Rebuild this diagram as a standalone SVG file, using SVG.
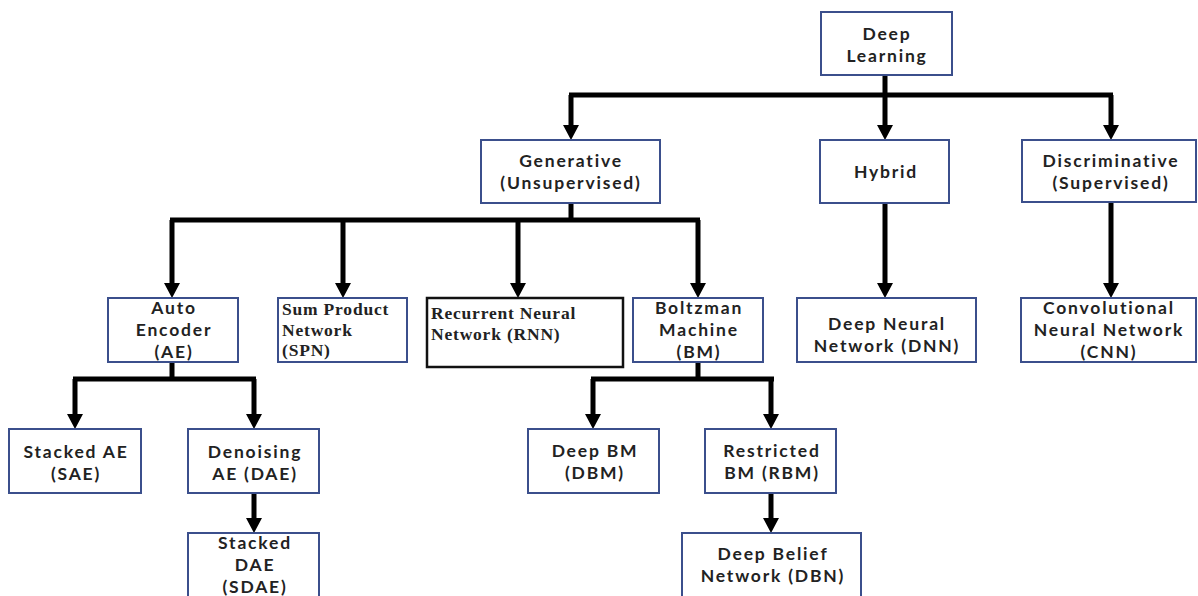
<svg xmlns="http://www.w3.org/2000/svg" xmlns:xlink="http://www.w3.org/1999/xlink" width="1198" height="596" viewBox="0 0 1198 596">
<style>
.box{fill:#fff;stroke:#3b4f8c;stroke-width:2}
.bk{fill:#fff;stroke:#111;stroke-width:2.5}
.t{font-family:Lato,"Open Sans",sans-serif;font-weight:bold;font-size:17.5px;letter-spacing:1.8px;fill:#222;text-anchor:middle}
.s{font-family:"Liberation Serif",serif;font-weight:bold;font-size:17.5px;letter-spacing:0.8px;fill:#222}
.c{fill:none;stroke:#000;stroke-width:5}
</style>
<defs>
<path id="ah" d="M-8,-15 L8,-15 L0,0 Z" fill="#000"/>
</defs>
<rect width="1198" height="596" fill="#fff"/>
<g id="connectors">
<path class="c" d="M885,75 V95 M569,95 H1113 M571,95 V126 M885,95 V126 M1111,95 V126"/>
<path class="c" d="M571,203 V220 M170,220 H700 M172,220 V284 M343,220 V284 M518,220 V284 M698,220 V284"/>
<path class="c" d="M885,203 V284 M1111,202 V284"/>
<path class="c" d="M172,362 V379 M73,379 H256 M75,379 V415 M254,379 V415 M254,493 V519"/>
<path class="c" d="M698,362 V379 M591,379 H774 M593,379 V415 M771,379 V415 M771,493 V519"/>
<use xlink:href="#ah" x="571" y="140"/>
<use xlink:href="#ah" x="885" y="140"/>
<use xlink:href="#ah" x="1111" y="140"/>
<use xlink:href="#ah" x="172" y="298"/>
<use xlink:href="#ah" x="343" y="298"/>
<use xlink:href="#ah" x="518" y="298"/>
<use xlink:href="#ah" x="698" y="298"/>
<use xlink:href="#ah" x="885" y="298"/>
<use xlink:href="#ah" x="1111" y="298"/>
<use xlink:href="#ah" x="75" y="429"/>
<use xlink:href="#ah" x="254" y="429"/>
<use xlink:href="#ah" x="593" y="429"/>
<use xlink:href="#ah" x="771" y="429"/>
<use xlink:href="#ah" x="254" y="533"/>
<use xlink:href="#ah" x="771" y="533"/>
</g>
<g id="deep-learning"><rect class="box" x="821" y="12" width="131" height="63"/><text class="t" x="887" y="40">Deep</text><text class="t" x="887" y="62">Learning</text></g>
<g id="generative"><rect class="box" x="481" y="140" width="179" height="63"/><text class="t" x="571" y="167">Generative</text><text class="t" x="571" y="189">(Unsupervised)</text></g>
<g id="hybrid"><rect class="box" x="820" y="140" width="129" height="63"/><text class="t" x="886" y="178">Hybrid</text></g>
<g id="discriminative"><rect class="box" x="1022" y="140" width="174" height="62"/><text class="t" x="1111" y="167">Discriminative</text><text class="t" x="1111" y="189">(Supervised)</text></g>
<g id="auto-encoder"><rect class="box" x="108" y="298" width="130" height="64"/><text class="t" x="174" y="314">Auto</text><text class="t" x="174" y="336">Encoder</text><text class="t" x="174" y="358">(AE)</text></g>
<g id="spn"><rect class="box" x="278" y="298" width="129" height="64"/><text class="s" x="282" y="315">Sum Product</text><text class="s" x="282" y="335.5">Network</text><text class="s" x="282" y="356">(SPN)</text></g>
<g id="rnn"><rect class="bk" x="427" y="298" width="196" height="69"/><text class="s" x="431" y="319">Recurrent Neural</text><text class="s" x="431" y="339.5">Network (RNN)</text></g>
<g id="boltzman"><rect class="box" x="633" y="298" width="130" height="64"/><text class="t" x="699" y="314">Boltzman</text><text class="t" x="699" y="336">Machine</text><text class="t" x="699" y="358">(BM)</text></g>
<g id="dnn"><rect class="box" x="797" y="298" width="179" height="64"/><text class="t" x="887" y="330">Deep Neural</text><text class="t" x="887" y="352">Network (DNN)</text></g>
<g id="cnn"><rect class="box" x="1021" y="298" width="175" height="64"/><text class="t" x="1109" y="314">Convolutional</text><text class="t" x="1109" y="336">Neural Network</text><text class="t" x="1109" y="358">(CNN)</text></g>
<g id="sae"><rect class="box" x="9" y="429" width="132" height="64"/><text class="t" x="76" y="458">Stacked AE</text><text class="t" x="76" y="480">(SAE)</text></g>
<g id="dae"><rect class="box" x="188" y="429" width="131" height="64"/><text class="t" x="255" y="458">Denoising</text><text class="t" x="255" y="480">AE (DAE)</text></g>
<g id="sdae"><rect class="box" x="188" y="533" width="131" height="70"/><text class="t" x="255" y="549">Stacked</text><text class="t" x="255" y="571">DAE</text><text class="t" x="255" y="593">(SDAE)</text></g>
<g id="dbm"><rect class="box" x="528" y="429" width="131" height="64"/><text class="t" x="595" y="457">Deep BM</text><text class="t" x="595" y="479">(DBM)</text></g>
<g id="rbm"><rect class="box" x="705" y="429" width="131" height="64"/><text class="t" x="772" y="457">Restricted</text><text class="t" x="772" y="479">BM (RBM)</text></g>
<g id="dbn"><rect class="box" x="682" y="533" width="179" height="70"/><text class="t" x="773" y="560">Deep Belief</text><text class="t" x="773" y="582">Network (DBN)</text></g>
</svg>
